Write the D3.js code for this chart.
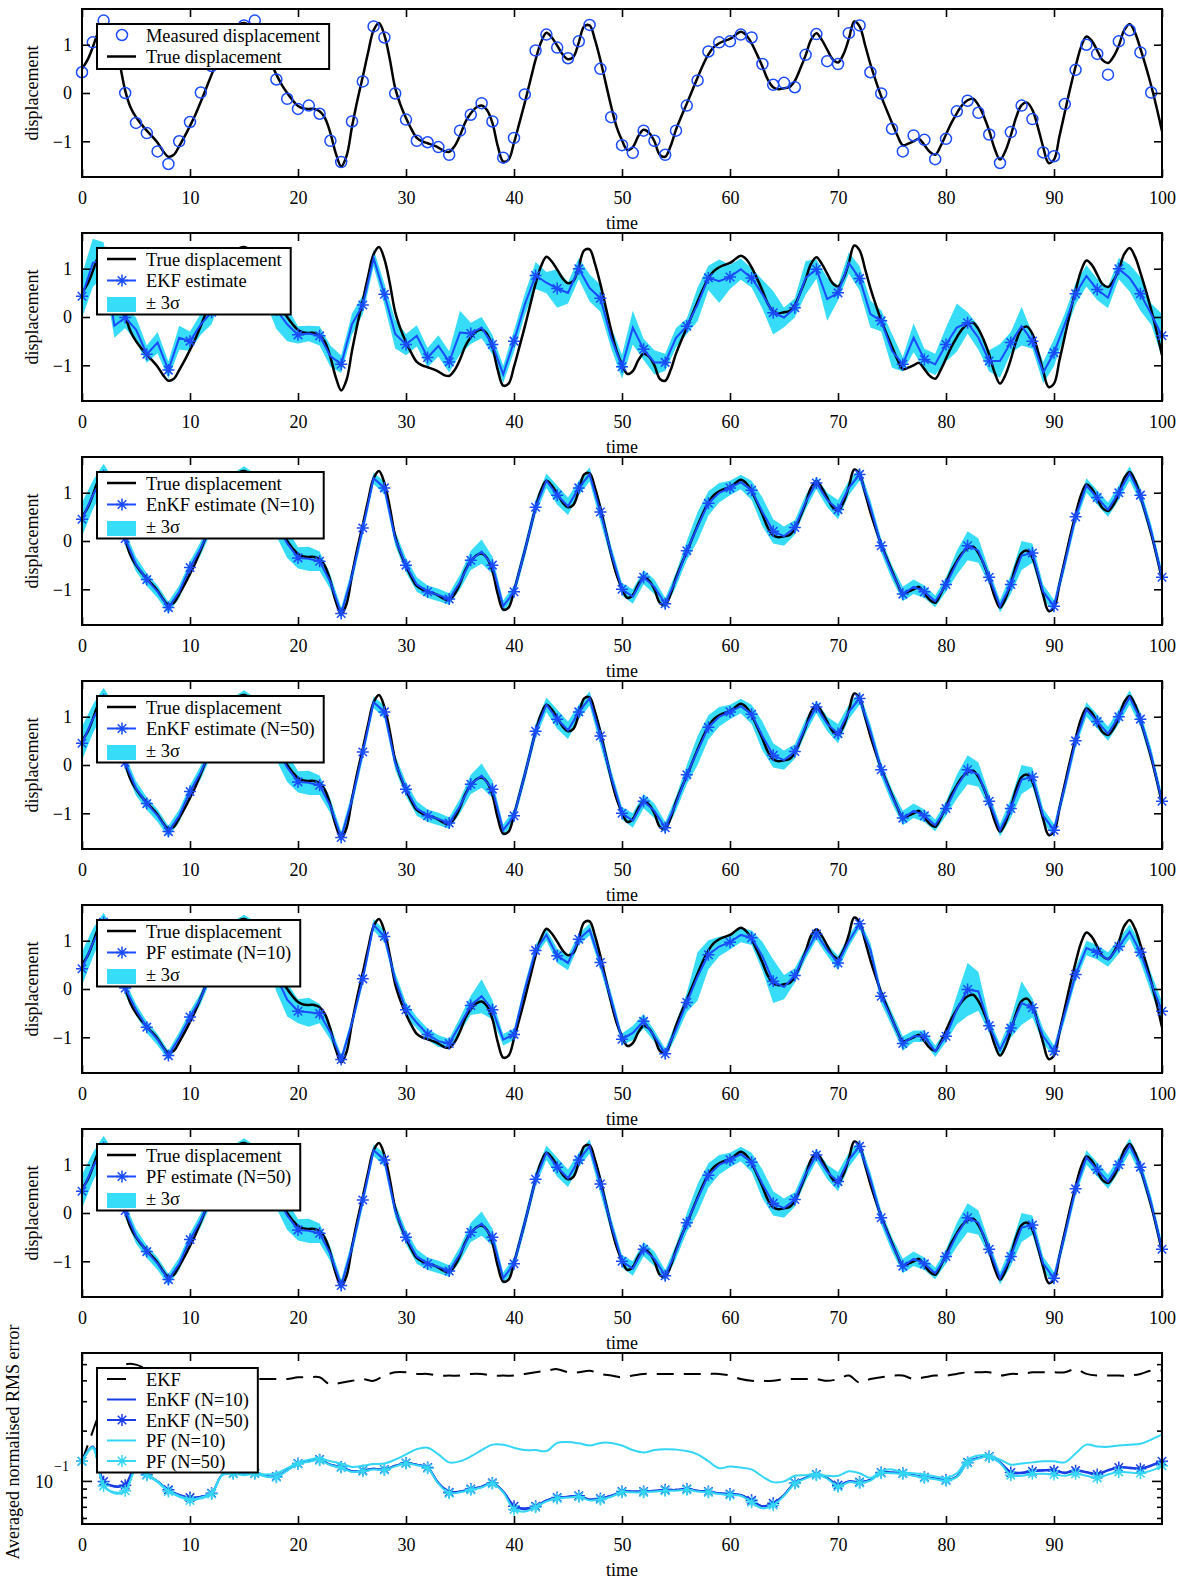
<!DOCTYPE html>
<html><head><meta charset="utf-8">
<script src="https://cdn.jsdelivr.net/npm/d3@7"></script>
<style>
body{margin:0;background:#fff;}
svg text{font-family:"Liberation Serif","Times New Roman",serif;fill:#000;}
</style></head><body>
<svg id="fig" width="1188" height="1582"></svg>
<script>
// ---------- data ----------
// fine time grid (0.5 steps) for the true trajectory
const trueTime = d3.range(0, 100.001, 0.5);
const trueDisp = [0.5,0.68,0.95,1.25,1.42,1.4,1.1,0.6,0.05,-0.3,
-0.5,-0.65,-0.78,-0.9,-1.03,-1.2,-1.32,-1.28,-1.1,-0.9,
-0.68,-0.45,-0.18,0.1,0.38,0.65,0.9,1.12,1.3,1.42,
1.45,1.4,1.28,1.1,0.88,0.62,0.38,0.17,0.0,-0.15,
-0.27,-0.32,-0.33,-0.33,-0.38,-0.52,-0.83,-1.25,-1.52,-1.3,
-0.7,-0.15,0.34,0.85,1.3,1.45,1.2,0.7,0.1,-0.25,
-0.52,-0.75,-0.93,-1.0,-1.04,-1.08,-1.13,-1.2,-1.22,-1.1,
-0.88,-0.6,-0.42,-0.3,-0.26,-0.35,-0.62,-1.1,-1.42,-1.38,
-1.03,-0.62,-0.2,0.25,0.69,1.05,1.25,1.15,0.98,0.8,
0.7,0.75,1.05,1.38,1.4,1.1,0.68,0.2,-0.28,-0.7,
-0.98,-1.18,-1.12,-0.9,-0.76,-0.82,-1.0,-1.28,-1.32,-1.1,
-0.76,-0.48,-0.22,0.05,0.32,0.58,0.8,0.95,1.03,1.08,
1.12,1.2,1.27,1.2,1.03,0.8,0.55,0.28,0.12,0.08,
0.1,0.12,0.25,0.5,0.78,1.1,1.24,1.1,0.9,0.7,
0.63,0.8,1.12,1.48,1.38,1.0,0.6,0.25,-0.07,-0.35,
-0.62,-0.88,-1.08,-1.05,-1.0,-0.95,-1.08,-1.22,-1.28,-1.1,
-0.86,-0.62,-0.42,-0.25,-0.15,-0.12,-0.25,-0.48,-0.78,-1.15,
-1.38,-1.2,-0.88,-0.5,-0.25,-0.2,-0.35,-0.7,-1.12,-1.45,
-1.38,-0.9,-0.4,0.1,0.55,0.95,1.17,1.08,0.88,0.68,
0.62,0.75,0.98,1.3,1.43,1.25,0.92,0.55,0.15,-0.3,
-0.79];

// noisy measurements, one per time step (t = 0..99)
const measured = [0.43,1.05,1.5,1.1,0,-0.62,-0.83,-1.21,-1.47,-1.0,
-0.6,0.01,0.56,1.0,1.3,1.4,1.5,0.9,0.28,-0.12,
-0.33,-0.26,-0.43,-0.99,-1.43,-0.59,0.24,1.38,1.15,-0.01,
-0.55,-0.99,-1.02,-1.12,-1.28,-0.78,-0.45,-0.21,-0.59,-1.34,
-0.93,-0.03,0.88,1.21,0.94,0.72,1.07,1.41,0.5,-0.5,
-1.08,-1.24,-0.78,-0.99,-1.28,-0.78,-0.26,0.26,0.86,1.05,
1.07,1.21,1.15,0.6,0.17,0.21,0.12,0.79,1.22,0.66,
0.6,1.24,1.4,0.43,-0.01,-0.74,-1.21,-0.88,-0.97,-1.37,
-0.95,-0.38,-0.16,-0.41,-0.86,-1.45,-0.81,-0.26,-0.54,-1.23,
-1.31,-0.23,0.48,1.0,0.81,0.38,1.07,1.3,0.84,0.01];

// filter time steps (t = 0..100)
const steps = d3.range(0, 101);

const ekfEst = [0.43,1.12,1.2,-0.18,-0.01,-0.26,-0.77,-0.53,-1.1,-0.43,
-0.5,-0.15,0.1,0.7,1.0,1.1,1.05,0.6,0.15,-0.15,
-0.37,-0.34,-0.39,-0.81,-0.98,-0.15,0.25,1.22,0.47,-0.35,
-0.57,-0.39,-0.84,-0.6,-0.93,-0.32,-0.34,-0.22,-0.57,-1.19,
-0.5,0.26,0.86,0.71,0.59,0.5,1.0,0.6,0.39,-0.43,
-1.03,-0.22,-0.67,-0.94,-0.94,-0.43,-0.19,0.26,0.81,0.74,
0.83,0.99,0.81,0.47,0.09,-0.01,0.19,0.81,0.99,0.37,
0.5,1.12,0.8,0.06,-0.08,-0.7,-0.98,-0.43,-0.88,-0.98,
-0.57,-0.22,-0.12,-0.43,-0.91,-0.91,-0.53,-0.19,-0.5,-1.15,
-0.74,-0.15,0.48,0.85,0.57,0.4,1.0,0.81,0.48,0.06,-0.39];
const ekfBand = [0.45,0.5,0.35,0.25,0.22,0.25,0.18,0.22,0.18,0.25,
0.2,0.22,0.25,0.25,0.25,0.25,0.25,0.3,0.4,0.35,
0.18,0.16,0.2,0.22,0.18,0.22,0.2,0.18,0.22,0.3,
0.22,0.22,0.2,0.22,0.22,0.45,0.22,0.22,0.2,0.18,
0.22,0.22,0.28,0.22,0.4,0.22,0.22,0.28,0.28,0.22,
0.25,0.35,0.22,0.25,0.18,0.2,0.16,0.35,0.25,0.45,
0.25,0.22,0.2,0.3,0.45,0.2,0.2,0.35,0.2,0.45,
0.16,0.22,0.25,0.28,0.22,0.35,0.15,0.3,0.22,0.22,
0.35,0.5,0.22,0.25,0.22,0.35,0.22,0.4,0.16,0.22,
0.28,0.22,0.22,0.22,0.22,0.22,0.22,0.28,0.35,0.22,0.45];

const enkf10Est = [0.45,0.95,1.35,1.05,0.05,-0.48,-0.8,-1.05,-1.38,-1.05,
-0.55,-0.15,0.35,0.85,1.25,1.4,1.25,0.85,0.35,-0.05,
-0.35,-0.37,-0.42,-0.85,-1.5,-0.72,0.27,1.3,1.1,0.05,
-0.5,-0.9,-1.05,-1.12,-1.2,-0.85,-0.4,-0.22,-0.5,-1.35,
-1.05,-0.2,0.7,1.25,0.95,0.72,1.1,1.38,0.6,-0.25,
-1.0,-1.15,-0.75,-0.95,-1.3,-0.8,-0.2,0.3,0.78,1.0,
1.1,1.22,1.05,0.6,0.2,0.1,0.28,0.8,1.2,0.85,
0.65,1.1,1.38,0.7,-0.1,-0.65,-1.1,-0.95,-1.05,-1.25,
-0.9,-0.45,-0.1,-0.2,-0.75,-1.35,-0.9,-0.3,-0.25,-1.05,
-1.35,-0.45,0.5,1.15,0.9,0.65,1.0,1.4,0.95,0.2,-0.75];
const enkf10Band = [0.35,0.3,0.25,0.2,0.15,0.15,0.13,0.13,0.12,0.13,
0.13,0.14,0.15,0.15,0.15,0.15,0.15,0.2,0.25,0.3,
0.22,0.25,0.2,0.15,0.12,0.15,0.15,0.12,0.13,0.15,
0.15,0.15,0.13,0.13,0.12,0.15,0.2,0.25,0.18,0.12,
0.13,0.15,0.15,0.15,0.2,0.18,0.15,0.15,0.2,0.15,
0.13,0.15,0.15,0.15,0.12,0.15,0.2,0.3,0.25,0.2,
0.15,0.15,0.2,0.3,0.25,0.2,0.15,0.15,0.13,0.15,
0.2,0.15,0.13,0.15,0.15,0.15,0.15,0.15,0.13,0.12,
0.15,0.25,0.3,0.25,0.15,0.13,0.2,0.3,0.2,0.15,
0.13,0.15,0.15,0.15,0.15,0.15,0.15,0.15,0.15,0.15,0.15];

const enkf50Est = [0.45,0.95,1.35,1.05,0.05,-0.48,-0.8,-1.05,-1.38,-1.05,
-0.55,-0.15,0.35,0.85,1.25,1.4,1.25,0.85,0.35,-0.05,
-0.35,-0.37,-0.42,-0.85,-1.5,-0.72,0.27,1.3,1.1,0.05,
-0.5,-0.9,-1.05,-1.12,-1.2,-0.85,-0.4,-0.22,-0.5,-1.35,
-1.05,-0.2,0.7,1.25,0.95,0.72,1.1,1.38,0.6,-0.25,
-1.0,-1.15,-0.75,-0.95,-1.3,-0.8,-0.2,0.3,0.78,1.0,
1.1,1.22,1.05,0.6,0.2,0.1,0.28,0.8,1.2,0.85,
0.65,1.1,1.38,0.7,-0.1,-0.65,-1.1,-0.95,-1.05,-1.25,
-0.9,-0.45,-0.1,-0.2,-0.75,-1.35,-0.9,-0.3,-0.25,-1.05,
-1.35,-0.45,0.5,1.15,0.9,0.65,1.0,1.4,0.95,0.2,-0.75];
const enkf50Band = [0.35,0.3,0.25,0.2,0.15,0.15,0.13,0.13,0.12,0.13,
0.13,0.14,0.15,0.15,0.15,0.15,0.15,0.2,0.25,0.3,
0.22,0.25,0.2,0.15,0.12,0.15,0.15,0.12,0.13,0.15,
0.15,0.15,0.13,0.13,0.12,0.15,0.2,0.25,0.18,0.12,
0.13,0.15,0.15,0.15,0.2,0.18,0.15,0.15,0.2,0.15,
0.13,0.15,0.15,0.15,0.12,0.15,0.2,0.3,0.25,0.2,
0.15,0.15,0.2,0.3,0.25,0.2,0.15,0.15,0.13,0.15,
0.2,0.15,0.13,0.15,0.15,0.15,0.15,0.15,0.13,0.12,
0.15,0.25,0.3,0.25,0.15,0.13,0.2,0.3,0.2,0.15,
0.13,0.15,0.15,0.15,0.15,0.15,0.15,0.15,0.15,0.15,0.15];

const pf10Est = [0.42,0.95,1.38,1.05,0.02,-0.43,-0.79,-1.05,-1.38,-1.01,
-0.58,-0.19,0.35,0.88,1.28,1.42,1.25,0.85,0.25,-0.22,
-0.46,-0.48,-0.51,-0.9,-1.46,-0.7,0.21,1.33,1.09,0.19,
-0.43,-0.7,-0.94,-1.08,-1.13,-0.74,-0.34,-0.15,-0.43,-1.05,
-0.94,-0.01,0.8,1.12,0.69,0.54,1.03,1.23,0.55,-0.22,
-1.04,-0.91,-0.67,-0.98,-1.34,-0.84,-0.28,0.26,0.71,0.88,
0.97,1.12,1.06,0.68,0.16,0.04,0.28,0.74,1.14,0.81,
0.54,0.99,1.35,0.81,-0.15,-0.63,-1.13,-0.98,-0.98,-1.29,
-0.98,-0.43,-0.01,-0.05,-0.76,-1.26,-0.81,-0.29,-0.39,-0.98,
-1.29,-0.5,0.3,0.85,0.76,0.61,0.88,1.19,0.76,0.12,-0.46];
const pf10Band = [0.35,0.3,0.2,0.15,0.15,0.12,0.12,0.12,0.1,0.12,
0.12,0.12,0.12,0.12,0.12,0.12,0.15,0.2,0.3,0.35,
0.25,0.3,0.2,0.15,0.1,0.12,0.12,0.12,0.12,0.15,
0.15,0.12,0.12,0.12,0.1,0.15,0.2,0.35,0.2,0.12,
0.12,0.12,0.12,0.12,0.15,0.15,0.12,0.12,0.15,0.15,
0.12,0.15,0.15,0.12,0.1,0.15,0.2,0.5,0.3,0.2,
0.15,0.15,0.15,0.3,0.45,0.25,0.15,0.12,0.12,0.12,
0.15,0.12,0.1,0.15,0.15,0.15,0.15,0.12,0.12,0.12,
0.12,0.3,0.55,0.4,0.15,0.12,0.2,0.45,0.2,0.15,
0.12,0.15,0.15,0.15,0.15,0.15,0.15,0.15,0.2,0.2,0.2];

const pf50Est = [0.45,0.95,1.35,1.05,0.05,-0.48,-0.8,-1.05,-1.38,-1.05,
-0.55,-0.15,0.35,0.85,1.25,1.4,1.25,0.85,0.35,-0.05,
-0.35,-0.37,-0.42,-0.85,-1.5,-0.72,0.27,1.3,1.1,0.05,
-0.5,-0.9,-1.05,-1.12,-1.2,-0.85,-0.4,-0.22,-0.5,-1.35,
-1.05,-0.2,0.7,1.25,0.95,0.72,1.1,1.38,0.6,-0.25,
-1.0,-1.15,-0.75,-0.95,-1.3,-0.8,-0.2,0.3,0.78,1.0,
1.1,1.22,1.05,0.6,0.2,0.1,0.28,0.8,1.2,0.85,
0.65,1.1,1.38,0.7,-0.1,-0.65,-1.1,-0.95,-1.05,-1.25,
-0.9,-0.45,-0.1,-0.2,-0.75,-1.35,-0.9,-0.3,-0.25,-1.05,
-1.35,-0.45,0.5,1.15,0.9,0.65,1.0,1.4,0.95,0.2,-0.75];
const pf50Band = [0.35,0.3,0.25,0.2,0.15,0.15,0.13,0.13,0.12,0.13,
0.13,0.14,0.15,0.15,0.15,0.15,0.15,0.2,0.25,0.3,
0.22,0.25,0.2,0.15,0.12,0.15,0.15,0.12,0.13,0.15,
0.15,0.15,0.13,0.13,0.12,0.15,0.2,0.25,0.18,0.12,
0.13,0.15,0.15,0.15,0.2,0.18,0.15,0.15,0.2,0.15,
0.13,0.15,0.15,0.15,0.12,0.15,0.2,0.3,0.25,0.2,
0.15,0.15,0.2,0.3,0.25,0.2,0.15,0.15,0.13,0.15,
0.2,0.15,0.13,0.15,0.15,0.15,0.15,0.15,0.13,0.12,
0.15,0.25,0.3,0.25,0.15,0.13,0.2,0.3,0.2,0.15,
0.13,0.15,0.15,0.15,0.15,0.15,0.15,0.15,0.15,0.15,0.15];

// averaged normalised RMS error per step
const rmsEKF = [0.132,0.2,0.3,0.42,0.5,0.5,0.47,0.45,0.44,0.43,
0.43,0.42,0.42,0.41,0.41,0.41,0.41,0.41,0.41,0.41,
0.42,0.42,0.42,0.38,0.39,0.4,0.41,0.4,0.43,0.45,
0.45,0.44,0.44,0.43,0.43,0.43,0.44,0.44,0.43,0.43,
0.43,0.44,0.45,0.46,0.47,0.45,0.45,0.46,0.44,0.43,
0.42,0.43,0.44,0.44,0.44,0.44,0.44,0.44,0.44,0.44,
0.43,0.41,0.4,0.4,0.4,0.41,0.41,0.41,0.41,0.4,
0.41,0.43,0.39,0.41,0.42,0.43,0.43,0.41,0.42,0.43,
0.43,0.44,0.45,0.45,0.45,0.43,0.44,0.44,0.45,0.45,
0.45,0.45,0.47,0.44,0.43,0.43,0.43,0.43,0.44,0.46,0.46];
const rmsEnKF10 = [0.132,0.162,0.1,0.094,0.096,0.124,0.11,0.1,0.089,0.083,
0.08,0.081,0.085,0.11,0.112,0.11,0.112,0.108,0.107,0.117,
0.128,0.132,0.135,0.126,0.122,0.115,0.116,0.119,0.118,0.124,
0.129,0.126,0.121,0.098,0.087,0.087,0.09,0.093,0.098,0.087,
0.072,0.069,0.071,0.077,0.08,0.081,0.082,0.078,0.079,0.082,
0.087,0.087,0.087,0.088,0.089,0.089,0.09,0.088,0.087,0.085,
0.084,0.083,0.077,0.071,0.074,0.083,0.098,0.105,0.11,0.105,
0.095,0.1,0.099,0.102,0.113,0.113,0.112,0.109,0.106,0.104,
0.102,0.107,0.13,0.138,0.141,0.13,0.114,0.113,0.116,0.117,
0.117,0.113,0.117,0.114,0.111,0.117,0.122,0.121,0.12,0.125,0.133];
const rmsEnKF50 = [0.132,0.16,0.1,0.093,0.095,0.12,0.11,0.1,0.089,0.083,
0.08,0.081,0.085,0.11,0.112,0.11,0.112,0.108,0.107,0.117,
0.128,0.132,0.135,0.126,0.122,0.115,0.116,0.119,0.118,0.124,
0.129,0.126,0.121,0.098,0.086,0.087,0.09,0.093,0.098,0.087,
0.071,0.068,0.071,0.077,0.08,0.081,0.082,0.078,0.079,0.082,
0.087,0.087,0.087,0.088,0.089,0.089,0.09,0.088,0.087,0.085,
0.084,0.083,0.077,0.071,0.074,0.083,0.098,0.105,0.11,0.105,
0.095,0.1,0.099,0.102,0.113,0.113,0.112,0.109,0.106,0.104,
0.102,0.107,0.13,0.138,0.141,0.13,0.113,0.112,0.115,0.116,
0.116,0.112,0.116,0.113,0.11,0.116,0.121,0.12,0.119,0.124,0.132];
const rmsPF10 = [0.132,0.16,0.095,0.085,0.087,0.118,0.11,0.1,0.088,0.082,
0.078,0.08,0.085,0.11,0.112,0.11,0.112,0.11,0.112,0.12,
0.13,0.135,0.138,0.132,0.128,0.122,0.124,0.127,0.128,0.135,
0.145,0.156,0.159,0.145,0.13,0.132,0.141,0.154,0.166,0.166,
0.159,0.154,0.154,0.152,0.17,0.172,0.169,0.164,0.17,0.17,
0.164,0.154,0.149,0.154,0.156,0.155,0.152,0.145,0.132,0.12,
0.123,0.121,0.118,0.107,0.099,0.1,0.108,0.109,0.111,0.108,
0.108,0.115,0.112,0.105,0.115,0.118,0.113,0.112,0.11,0.107,
0.105,0.112,0.135,0.143,0.143,0.135,0.126,0.128,0.13,0.132,
0.132,0.13,0.147,0.166,0.162,0.161,0.164,0.166,0.168,0.178,0.191];
const rmsPF50 = [0.132,0.158,0.094,0.086,0.088,0.118,0.109,0.099,0.087,0.081,
0.077,0.079,0.084,0.109,0.111,0.109,0.111,0.107,0.106,0.116,
0.127,0.131,0.134,0.125,0.121,0.114,0.115,0.118,0.117,0.123,
0.128,0.125,0.12,0.097,0.085,0.086,0.089,0.092,0.097,0.086,
0.068,0.066,0.07,0.076,0.079,0.08,0.081,0.077,0.078,0.081,
0.086,0.086,0.086,0.087,0.088,0.088,0.089,0.087,0.086,0.084,
0.083,0.082,0.075,0.069,0.072,0.082,0.097,0.104,0.109,0.104,
0.093,0.099,0.098,0.101,0.112,0.112,0.111,0.108,0.105,0.103,
0.101,0.106,0.129,0.137,0.14,0.129,0.109,0.108,0.111,0.111,
0.11,0.108,0.111,0.108,0.105,0.11,0.114,0.113,0.112,0.116,0.124];

// ---------- layout ----------
const svg = d3.select('#fig');
const X0 = 82, PW = 1080, PH = 168, GAP = 224, TOP0 = 9;
const BLUE = '#1a4bff', CYAN = '#36dcf8', DARKBLUE = '#1b3de6', LIGHT = '#33d6f5';
const FS = 18, LFS = 18.4;
const EKF_DASH = '17,10';
const x = d3.scaleLinear().domain([0, 100]).range([X0, X0 + PW]);
const tickX = d3.range(0, 101, 10);

function starPath(s) {
  const d = s * 0.7071;
  return `M${-s},0L${s},0M0,${-s}L0,${s}M${-d},${-d}L${d},${d}M${-d},${d}L${d},${-d}`;
}
const minus = v => (v < 0 ? '\u2212' + Math.abs(v) : String(v));

function styleAxis(a) {
  a.select('.domain').remove();
  a.selectAll('.tick line').attr('stroke', '#000').attr('stroke-width', 1.6);
  a.attr('font-family', '"Liberation Serif","Times New Roman",serif').attr('font-size', FS);
}

function frame(g, top, h, y, yTicks, xTicks, ylabel, yLabelX, yLabelShift) {
  const bottom = top + h;
  g.append('g').attr('transform', `translate(0,${bottom})`)
    .call(d3.axisBottom(x).tickValues(xTicks).tickSizeInner(-8).tickSizeOuter(0).tickPadding(14).tickFormat(d3.format('d')))
    .call(styleAxis);
  g.append('g').attr('transform', `translate(0,${top})`)
    .call(d3.axisTop(x).tickValues(xTicks).tickSizeInner(-8).tickSizeOuter(0).tickFormat(''))
    .call(styleAxis);
  if (yTicks) {
    g.append('g').attr('transform', `translate(${X0},0)`)
      .call(d3.axisLeft(y).tickValues(yTicks).tickSizeInner(-8).tickSizeOuter(0).tickPadding(10).tickFormat(minus))
      .call(styleAxis);
    g.append('g').attr('transform', `translate(${X0 + PW},0)`)
      .call(d3.axisRight(y).tickValues(yTicks).tickSizeInner(-8).tickSizeOuter(0).tickFormat(''))
      .call(styleAxis);
  }
  g.append('rect').attr('x', X0).attr('y', top).attr('width', PW).attr('height', h)
    .attr('fill', 'none').attr('stroke', '#000').attr('stroke-width', 2);
  g.append('text').attr('x', X0 + PW / 2).attr('y', bottom + 52).attr('text-anchor', 'middle')
    .attr('font-size', FS).text('time');
  g.append('text').attr('transform', `translate(${yLabelX},${top + h / 2 + (yLabelShift || 0)}) rotate(-90)`)
    .attr('text-anchor', 'middle').attr('font-size', FS).text(ylabel);
}

function legend(g, top, items, rowH) {
  const x0 = 97, y0 = top + 15, tx = 146;
  const lg = g.append('g');
  const box = lg.append('rect').attr('x', x0).attr('y', y0)
    .attr('height', rowH * items.length + 2)
    .attr('fill', '#fff').attr('stroke', '#000').attr('stroke-width', 2);
  let maxW = 0;
  items.forEach((it, k) => {
    const cy = y0 + 11 + rowH * k;
    if (it.kind === 'patch') {
      lg.append('rect').attr('x', 107).attr('y', cy - 5).attr('width', 29).attr('height', 15).attr('fill', it.color);
    } else if (it.kind === 'circle') {
      lg.append('circle').attr('cx', 122).attr('cy', cy).attr('r', 5.5)
        .attr('fill', 'none').attr('stroke', it.color).attr('stroke-width', 1.5);
    } else {
      lg.append('line').attr('x1', 107).attr('x2', it.dash ? 126 : 136).attr('y1', cy).attr('y2', cy)
        .attr('stroke', it.color).attr('stroke-width', it.width || 2);
      if (it.star) lg.append('path').attr('d', starPath(6)).attr('transform', `translate(122,${cy})`)
        .attr('stroke', it.color).attr('stroke-width', 1.5).attr('fill', 'none');
    }
    const t = lg.append('text').attr('x', tx).attr('y', cy).attr('dy', '0.36em')
      .attr('font-size', LFS).text(it.label);
    maxW = Math.max(maxW, t.node().getComputedTextLength());
  });
  box.attr('width', tx + maxW + 9 - x0);
}

function dispScale(top) {
  return d3.scaleLinear().domain([-1.74, 1.74]).range([top + PH, top]);
}
function trueLine(g, y) {
  g.append('path').datum(trueDisp)
    .attr('d', d3.line().x((d, i) => x(trueTime[i])).y(d => y(d)).curve(d3.curveCatmullRom.alpha(0.5)))
    .attr('fill', 'none').attr('stroke', '#000').attr('stroke-width', 2.5);
}

// ---------- panel 1: measurements ----------
{
  const top = TOP0, y = dispScale(top);
  const g = svg.append('g');
  trueLine(g, y);
  g.selectAll('circle.meas').data(measured).join('circle').attr('class', 'meas')
    .attr('cx', (d, i) => x(i)).attr('cy', d => y(d)).attr('r', 5.5)
    .attr('fill', 'none').attr('stroke', BLUE).attr('stroke-width', 1.5);
  frame(g, top, PH, y, [-1, 0, 1], tickX, 'displacement', 38);
  legend(g, top, [
    { kind: 'circle', color: BLUE, label: 'Measured displacement' },
    { kind: 'line', color: '#000', width: 2.5, label: 'True displacement' }
  ], 21.5);
}

// ---------- panels 2-6: filter estimates with ±3σ bands ----------
const filters = [
  { est: ekfEst, band: ekfBand, label: 'EKF estimate' },
  { est: enkf10Est, band: enkf10Band, label: 'EnKF estimate (N=10)' },
  { est: enkf50Est, band: enkf50Band, label: 'EnKF estimate (N=50)' },
  { est: pf10Est, band: pf10Band, label: 'PF estimate (N=10)' },
  { est: pf50Est, band: pf50Band, label: 'PF estimate (N=50)' }
];
filters.forEach((f, k) => {
  const top = TOP0 + GAP * (k + 1), y = dispScale(top);
  const g = svg.append('g');
  g.append('path').datum(steps)
    .attr('d', d3.area().x(t => x(t)).y0(t => y(f.est[t] - f.band[t])).y1(t => y(f.est[t] + f.band[t])))
    .attr('fill', CYAN);
  trueLine(g, y);
  g.append('path').datum(steps)
    .attr('d', d3.line().x(t => x(t)).y(t => y(f.est[t])))
    .attr('fill', 'none').attr('stroke', BLUE).attr('stroke-width', 2);
  g.selectAll('path.star').data(steps.filter(t => t % 2 === 0)).join('path').attr('class', 'star')
    .attr('d', starPath(6)).attr('transform', t => `translate(${x(t)},${y(f.est[t])})`)
    .attr('stroke', BLUE).attr('stroke-width', 1.5).attr('fill', 'none');
  frame(g, top, PH, y, [-1, 0, 1], tickX, 'displacement', 38);
  legend(g, top, [
    { kind: 'line', color: '#000', width: 2.5, label: 'True displacement' },
    { kind: 'line', color: BLUE, star: true, label: f.label },
    { kind: 'patch', color: CYAN, label: '\u00b1 3\u03c3' }
  ], 21.5);
});

// ---------- panel 7: averaged normalised RMS error (log scale) ----------
{
  const top = TOP0 + GAP * 6, h = 171, bottom = top + h;
  const y = d3.scaleLog().domain([0.0556, 0.587]).range([bottom, top]);
  const g = svg.append('g');
  const series = [
    { v: rmsEKF, color: '#000', dash: EKF_DASH },
    { v: rmsEnKF10, color: DARKBLUE },
    { v: rmsEnKF50, color: DARKBLUE, star: true },
    { v: rmsPF10, color: LIGHT },
    { v: rmsPF50, color: LIGHT, star: true }
  ];
  series.forEach(s => {
    g.append('path').datum(steps)
      .attr('d', d3.line().x(t => x(t)).y(t => y(s.v[t])).curve(d3.curveCatmullRom.alpha(0.5)))
      .attr('fill', 'none').attr('stroke', s.color).attr('stroke-width', 2)
      .attr('stroke-dasharray', s.dash || null);
    if (s.star) g.selectAll(null).data(steps.filter(t => t % 2 === 0)).join('path')
      .attr('d', starPath(6)).attr('transform', t => `translate(${x(t)},${y(s.v[t])})`)
      .attr('stroke', s.color).attr('stroke-width', 1.5).attr('fill', 'none');
  });
  frame(g, top, h, y, null, d3.range(0, 91, 10), 'Averaged normalised RMS error', 19, 3.5);
  // log ticks on both sides
  const minorT = [0.06, 0.07, 0.08, 0.09, 0.2, 0.3, 0.4, 0.5];
  [[X0, 1], [X0 + PW, -1]].forEach(([sx, dir]) => {
    g.selectAll(null).data(minorT).join('line')
      .attr('x1', sx).attr('x2', sx + dir * 5).attr('y1', d => y(d)).attr('y2', d => y(d))
      .attr('stroke', '#000').attr('stroke-width', 1.6);
    g.append('line').attr('x1', sx).attr('x2', sx + dir * 10).attr('y1', y(0.1)).attr('y2', y(0.1))
      .attr('stroke', '#000').attr('stroke-width', 1.6);
  });
  g.append('text').attr('x', 53).attr('y', y(0.1) + 6.5).attr('text-anchor', 'end').attr('font-size', FS).text('10');
  g.append('text').attr('x', 54).attr('y', y(0.1) - 10).attr('text-anchor', 'start').attr('font-size', 14).text('\u22121');
  legend(g, top, [
    { kind: 'line', color: '#000', dash: EKF_DASH, label: 'EKF' },
    { kind: 'line', color: DARKBLUE, label: 'EnKF (N=10)' },
    { kind: 'line', color: DARKBLUE, star: true, label: 'EnKF (N=50)' },
    { kind: 'line', color: LIGHT, label: 'PF (N=10)' },
    { kind: 'line', color: LIGHT, star: true, label: 'PF (N=50)' }
  ], 20.5);
}
</script>
</body></html>
